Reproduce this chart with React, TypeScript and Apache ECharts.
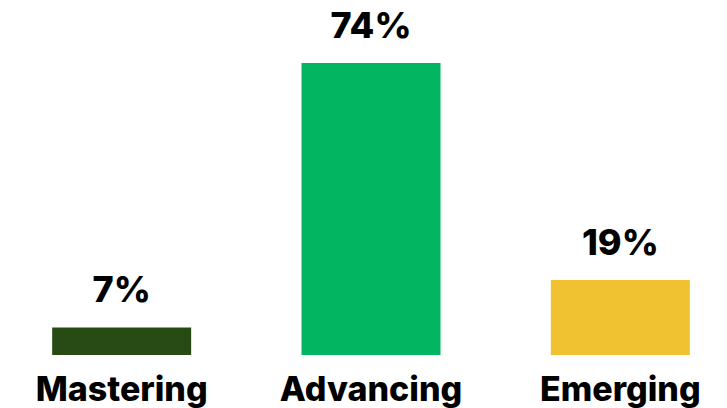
import React, { useEffect, useRef } from "react";
import * as echarts from "echarts";

const categories = ["Mastering", "Advancing", "Emerging"];
const values = [7, 74, 19];
const colors = ["#284b16", "#02b561", "#f0c232"];

export default function App() {
  const ref = useRef<HTMLDivElement>(null);
  useEffect(() => {
    const chart = echarts.init(ref.current!, null, { renderer: "svg" });
    chart.setOption({
      animation: false,
      grid: { left: -3, width: 748, top: 39.3, bottom: 53, outerBoundsMode: "none", containLabel: false },
      xAxis: {
        type: "category",
        data: categories,
        axisLine: { show: false },
        axisTick: { show: false },
        axisLabel: {
          color: "#000",
          fontFamily: "Inter",
          fontWeight: 800,
          fontSize: 34,
          margin: 16,
        },
      },
      yAxis: { type: "value", min: 0, max: 80, show: false, splitLine: { show: false } },
      series: [
        {
          type: "bar",
          barWidth: 139,
          data: values.map((v, i) => ({ value: v, itemStyle: { color: colors[i] } })),
          label: {
            show: true,
            position: "top",
            distance: 20,
            formatter: "{c}%",
            color: "#000",
            fontFamily: "Inter",
            fontWeight: 800,
            fontSize: 36,
          },
        },
      ],
    });
    return () => chart.dispose();
  }, []);
  return <div ref={ref} style={{ position: "fixed", left: 0, top: 0, width: 727, height: 408, background: "#fff" }} />;
}
